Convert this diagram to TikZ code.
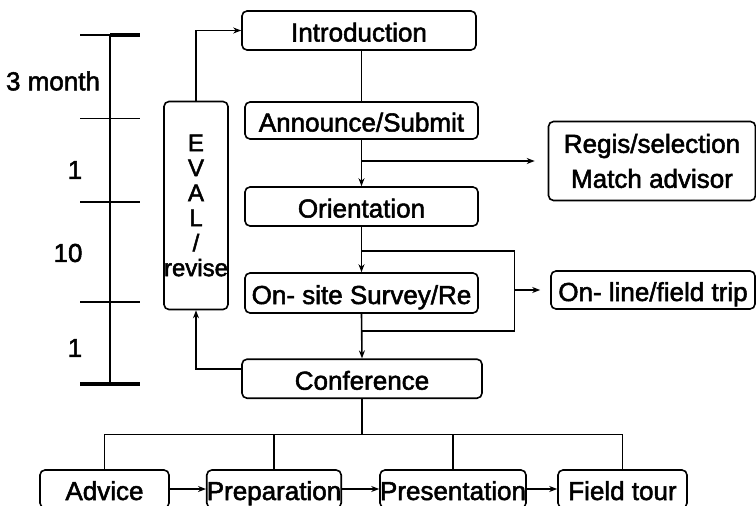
\documentclass[tikz,border=0pt]{standalone}
\usepackage{fontspec}
\setmainfont{Liberation Sans}[FakeBold=2]
\usetikzlibrary{arrows.meta, calc}

\tikzstyle{stage} = [rectangle, rounded corners=5pt, draw=black, line width=1.6pt, inner sep=0pt, text height=22pt, text depth=0pt, text centered]
\tikzstyle{arrow} = [-{Stealth[length=8pt, width=6pt]}, line width=1.6pt]
\tikzstyle{tick} = [line width=1.6pt]

\begin{document}
\begin{tikzpicture}[x=1pt, y=-1pt, line width=1.6pt,
			every node/.style = {font=\fontsize{26}{30}\selectfont}]
			\useasboundingbox (0,0) rectangle (756,506);
			\clip (0,0) rectangle (756,506);

			% time scale
			\draw[line width=2.2pt] (110,35) -- (110,384);
			\draw[tick] (80,35) -- (110,35);
			\draw[line width=3.5pt] (110,35) -- (140,35);
			\foreach \y in {118.3, 201.7, 301.7}
				\draw[tick] (80,\y) -- (140,\y);
			\draw[line width=3.5pt] (80,384) -- (140,384);
			\node (t1) at (53,81) {3 month};
			\node (t2) at (75,170) {1};
			\node (t3) at (68,253) {10};
			\node (t4) at (75,348) {1};

			% main stages
			\node[stage, minimum width=234pt, minimum height=39pt] (intro) at (359,30.5) {Introduction};
			\node[stage, minimum width=233pt, minimum height=37pt] (announce) at (361.5,120.5) {Announce/Submit};
			\node[stage, minimum width=233pt, minimum height=39pt] (orient) at (361.5,206.5) {Orientation};
			\node[stage, minimum width=233pt, minimum height=40pt] (survey) at (361.5,293) {On- site Survey/Re};
			\node[stage, minimum width=240pt, minimum height=39pt] (conf) at (362,378.7) {Conference};
			\node[stage, minimum width=207pt, minimum height=79pt, align=center, text height=, text depth=,
				font=\fontsize{26}{35}\selectfont] (regis) at (652,161) {Regis/selection\\Match advisor};
			\node[stage, minimum width=204pt, minimum height=38pt] (online) at (653,290) {On- line/field trip};
			\node[stage, minimum width=41pt, minimum height=208pt, align=center, text height=, text depth=,
				font=\fontsize{24}{25}\selectfont] (eval) at (196,205.5) {E\\V\\A\\L\\/\\revise};

			% bottom stages
			\node[stage, minimum width=129pt, minimum height=38pt] (advice) at (104.5,489) {Advice};
			\node[stage, minimum width=128pt, minimum height=38pt] (prep) at (274,489) {Preparation};
			\node[stage, minimum width=128pt, minimum height=38pt] (pres) at (453,489) {Presentation};
			\node[stage, minimum width=129pt, minimum height=38pt] (ftour) at (622.5,489) {Field tour};

			% flow
			\draw (announce.north |- intro.south) -- (announce.north);
			\draw[arrow] (announce.south) -- (orient.north);
			\draw[arrow] (orient.south) -- (survey.north);
			\draw[arrow] (survey.south) -- (conf.north);

			\coordinate (b1) at (362,161);
			\draw[arrow, shorten >=13pt] (b1) -- (regis.west);

			\coordinate (l1) at (362,250.7);
			\coordinate (l2) at (514.3,250.7);
			\coordinate (l3) at (514.3,331);
			\coordinate (l4) at (362,331);
			\draw (l1) -- (l2) -- (l3) -- (l4);
			\draw[arrow, shorten >=10pt] (l2 |- online.west) -- (online.west);

			\draw[arrow] (eval.north) |- (intro.west);
			\draw[arrow] ([yshift=9.7pt]conf.west) -| (eval.south);

			\coordinate (bus) at (362,434.3);
			\draw (conf.south) -- (bus);
			\draw (advice.north) |- (bus) -| (ftour.north);
			\draw (prep.north) -- (prep.north |- bus);
			\draw (pres.north) -- (pres.north |- bus);

			\draw[arrow] (advice.east) -- (prep.west);
			\draw[arrow] (prep.east) -- (pres.west);
			\draw[arrow] (pres.east) -- (ftour.west);
		\end{tikzpicture}
\end{document}
